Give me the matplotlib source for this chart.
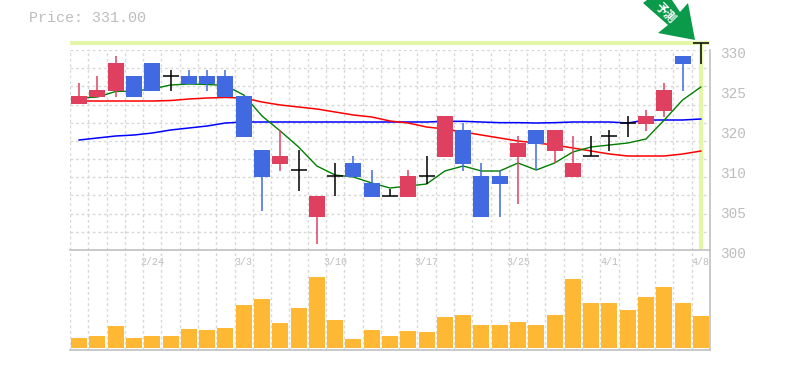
"""
Candlestick chart with moving averages and volume panel.
"""
import matplotlib
matplotlib.use('Agg')
import matplotlib.pyplot as plt
import matplotlib.transforms as mtransforms
from matplotlib.patches import Polygon

# 35 trading days
opens = [321.9, 322.95, 323.85, 326.1, 328.05, 326.1, 326.1, 326.1, 326.1, 323.1,
         315.0, 312.9, 312.0, 304.95, 311.1, 313.05, 310.05, 308.1, 307.95, 311.1,
         313.95, 318.0, 311.1, 311.1, 313.95, 318.0, 314.85, 310.95, 314.1, 317.1,
         319.05, 318.9, 320.85, 329.1, 331.0]
closes = [323.1, 324.0, 328.05, 322.95, 323.85, 326.1, 324.9, 324.9, 322.95, 316.95,
          310.95, 314.1, 312.0, 308.1, 311.1, 310.95, 307.95, 308.1, 311.1, 311.1,
          320.1, 312.9, 304.95, 309.9, 316.05, 315.9, 318.0, 313.05, 314.1, 317.1,
          319.05, 320.1, 324.0, 327.9, 331.0]
highs = [325.05, 326.1, 329.1, 326.1, 328.05, 327.0, 327.0, 327.0, 327.0, 323.1,
         315.0, 318.0, 315.0, 308.1, 313.05, 314.1, 312.0, 309.15, 312.0, 314.1,
         320.1, 319.05, 313.05, 312.0, 317.1, 318.0, 318.0, 317.1, 317.1, 318.0,
         320.1, 321.0, 325.05, 329.1, 331.0]
lows = [321.9, 322.95, 322.95, 322.95, 323.85, 323.85, 324.9, 323.85, 322.95, 316.95,
        305.85, 311.85, 308.85, 300.9, 308.1, 310.95, 307.95, 308.1, 307.95, 309.9,
        313.95, 311.85, 304.95, 304.95, 306.9, 312.0, 313.05, 310.95, 314.1, 314.85,
        316.95, 317.85, 319.95, 323.85, 327.9]
ma_short = [322.8, 322.95, 323.78, 323.85, 324.15, 324.75, 324.9, 324.83, 324.68, 323.25,
            320.1, 317.85, 315.45, 312.6, 311.25, 310.95, 310.05, 309.3, 309.6, 309.9,
            311.85, 312.6, 311.85, 311.85, 313.05, 312.0, 313.05, 314.7, 315.45, 315.75,
            316.05, 316.65, 319.5, 322.5, 324.45]
ma_mid = [322.35, 322.35, 322.35, 322.35, 322.35, 322.42, 322.65, 322.8, 322.88, 322.8,
          322.2, 321.75, 321.45, 321.15, 320.7, 320.25, 319.95, 319.35, 319.05, 318.45,
          318.15, 317.7, 317.25, 316.8, 316.35, 316.05, 315.75, 315.3, 314.85, 314.4,
          314.1, 314.1, 314.1, 314.4, 314.85]
ma_long = [316.5, 316.8, 317.1, 317.25, 317.55, 318.0, 318.3, 318.6, 319.05, 319.2,
           319.2, 319.2, 319.2, 319.2, 319.2, 319.2, 319.2, 319.2, 319.2, 319.2,
           319.3, 319.3, 319.2, 319.1, 319.1, 319.05, 319.1, 319.2, 319.2, 319.2,
           319.05, 319.5, 319.5, 319.5, 319.65]
volumes = [10, 12, 22, 10, 12, 12, 19, 18, 20, 43, 49, 25, 40, 71, 28, 9, 18, 12,
           17, 16, 31, 33, 23, 23, 26, 23, 33, 69, 45, 45, 38, 51, 61, 45, 32]
date_idx = [4, 9, 14, 19, 24, 29, 34]
date_labels = ['2/24', '3/3', '3/10', '3/17', '3/25', '4/1', '4/8']
price_ticks = [300, 306, 312, 318, 324, 330]
price_labels = ['300', '305', '310', '320', '325', '330']
last_price = 331.0

W, H = 785, 370
UP = '#e04060'
DOWN = '#4169e1'
GRID = '#d8d8d8'
AXIS = '#c0c0c0'
TEXT = '#bdbdbd'
HILITE = '#e4f6a8'
MONO = 'Liberation Mono'

fig = plt.figure(figsize=(W / 100, H / 100), dpi=100)
ax = fig.add_axes([70 / W, 1 - 250 / H, 640 / W, 200 / H])
vol = fig.add_axes([70 / W, 1 - 350 / H, 640 / W, 100 / H])

days = list(range(len(opens)))

# Price panel
ax.set_xlim(-0.5, 34.5)
ax.set_ylim(300, 330)
grid_x = [d - 0.5 for d in days]
for g in grid_x:
    ax.axvline(g, color=GRID, lw=1, ls=(0, (2, 2)), zorder=1)
for k in range(1, 11):
    ax.axhline(300 + k * 30 / 11, color=GRID, lw=1, ls=(0, (2, 2)), zorder=1)
ax.axhline(330, color=GRID, lw=1, ls=(0, (2, 2)), zorder=1)

# current price cross-hair
ax.plot([-0.5, 34.5], [last_price, last_price], color=HILITE, lw=3, zorder=2,
        clip_on=False, solid_capstyle='butt')
ax.plot([34, 34], [300.2, last_price], color=HILITE, lw=3, zorder=2,
        clip_on=False, solid_capstyle='butt')

ax.plot(days, ma_long, color='#0000ff', lw=1.1, zorder=3)
ax.plot(days, ma_mid, color='#ff0000', lw=1.1, zorder=3)
ax.plot(days, ma_short, color='#007f00', lw=1.0, zorder=3)

for d, o, c, hi, lo in zip(days, opens, closes, highs, lows):
    if c == o:
        col = 'black'
    elif c > o:
        col = UP
    else:
        col = DOWN
    ax.plot([d, d], [lo, hi], color=col, lw=1.1, zorder=4, clip_on=False,
            solid_capstyle='butt')
    if c == o:
        ax.plot([d - 0.44, d + 0.44], [c, c], color=col, lw=1.1, zorder=4,
                clip_on=False, solid_capstyle='butt')
    else:
        ax.bar(d, abs(c - o), bottom=min(o, c), width=0.875, color=col, zorder=5)

for side in ['top', 'left']:
    ax.spines[side].set_visible(False)
ax.spines['bottom'].set_color(AXIS)
ax.spines['right'].set_color(AXIS)
ax.spines['bottom'].set_linewidth(1.2)
ax.spines['right'].set_linewidth(1.2)

ax.set_xticks(date_idx)
ax.set_xticklabels(date_labels, fontsize=7.2, family=MONO, color=TEXT)
ax.set_yticks(price_ticks)
ax.set_yticklabels(price_labels, fontsize=10.4, family=MONO, color=TEXT)
ax.yaxis.tick_right()
ax.tick_params(axis='both', length=0)
ax.tick_params(axis='x', pad=5)
ax.tick_params(axis='y', pad=7)
shift = mtransforms.ScaledTranslation(0, -3 / 100, fig.dpi_scale_trans)
for lbl in ax.get_yticklabels():
    lbl.set_transform(lbl.get_transform() + shift)

# Volume panel
vol.set_xlim(-0.5, 34.5)
vol.set_ylim(-2, 98)
for g in grid_x:
    vol.axvline(g, color=GRID, lw=1, ls=(0, (2, 2)), zorder=1)
vol.bar(days, volumes, width=0.875, color='#ffb833', zorder=3)
for side in ['top', 'left']:
    vol.spines[side].set_visible(False)
vol.spines['bottom'].set_color(AXIS)
vol.spines['right'].set_color(AXIS)
vol.spines['bottom'].set_linewidth(1.2)
vol.spines['right'].set_linewidth(1.2)
vol.set_xticks([])
vol.set_yticks([])
vol.patch.set_alpha(0)

fig.text(29 / W, 1 - 18 / H, f'Price: {last_price:.2f}', fontsize=10.8, family=MONO,
         color=TEXT, va='center', ha='left')

# Callout arrow, pixel positions converted to figure fraction
arrow_px = [(643, 3), (647, 0), (672, 0), (680, 12), (688, 3), (695, 40), (658, 33), (668, 25)]
fig.add_artist(Polygon([(x / W, 1 - y / H) for x, y in arrow_px], closed=True,
                       facecolor='#0a9a4a', edgecolor='none',
                       transform=fig.transFigure, zorder=6))
fig.text(665 / W, 1 - 13.5 / H, '予測', fontsize=8.5, family=['Noto Sans CJK JP', 'DejaVu Sans'],
         weight='bold', color='white', rotation=-45, ha='center', va='center', zorder=7)

fig.savefig('out.png', dpi=100)
